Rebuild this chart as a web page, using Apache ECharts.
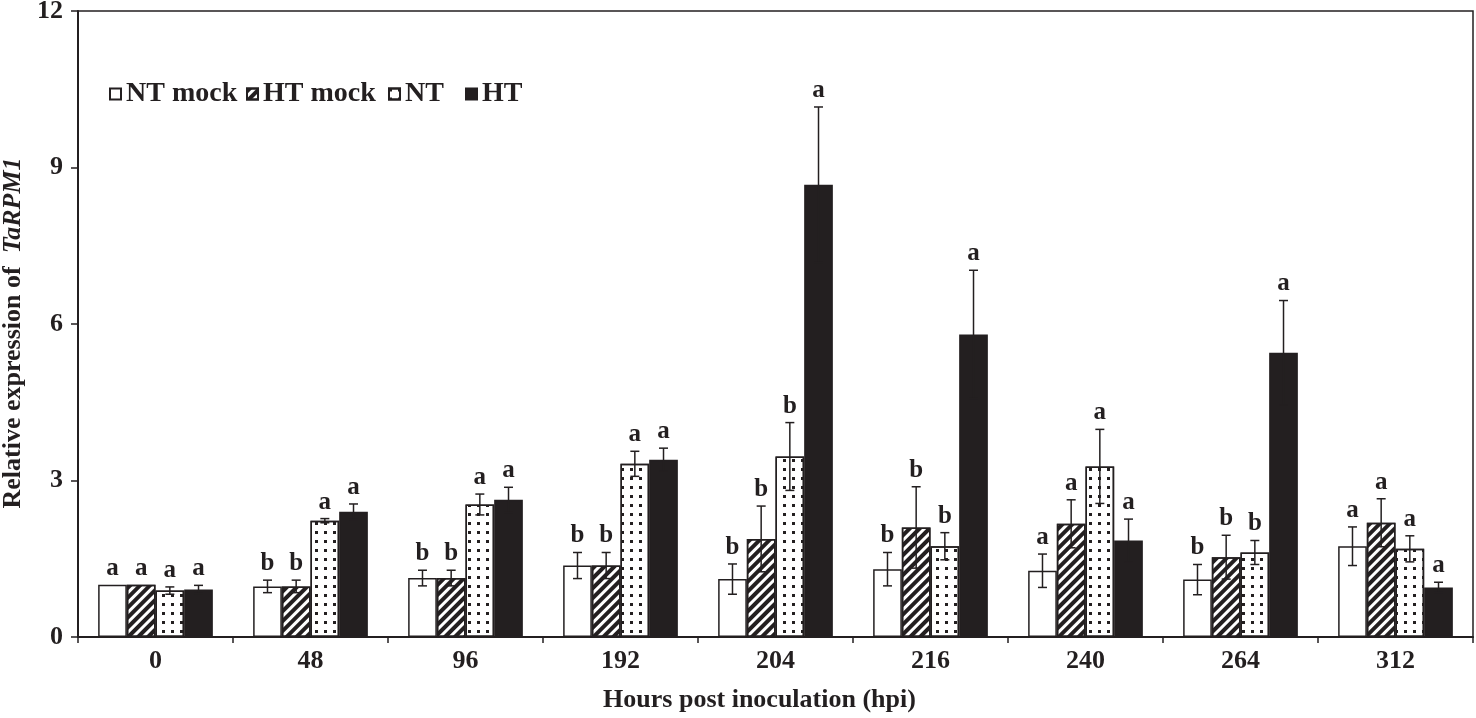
<!DOCTYPE html>
<html>
<head>
<meta charset="utf-8">
<script src="https://cdn.jsdelivr.net/npm/echarts@6/dist/echarts.min.js"></script>
<style>
html,body{margin:0;padding:0;background:#fff;}
#chart{width:1476px;height:718px;}
</style>
</head>
<body>
<div id="chart"></div>
<script>
const categories = ['0','48','96','192','204','216','240','264','312'];
const seriesNames = ['NT mock','HT mock','NT','HT'];
const ntMock    = [1.00, 0.97, 1.13, 1.37, 1.11, 1.30, 1.27, 1.10, 1.74];
const ntMockErr = [0.00, 0.12, 0.15, 0.25, 0.29, 0.32, 0.32, 0.29, 0.37];
const htMock    = [1.00, 0.97, 1.13, 1.37, 1.88, 2.10, 2.17, 1.53, 2.19];
const htMockErr = [0.00, 0.12, 0.15, 0.25, 0.63, 0.78, 0.46, 0.42, 0.46];
const nt        = [0.89, 2.23, 2.54, 3.32, 3.46, 1.74, 3.27, 1.62, 1.69];
const ntErr     = [0.07, 0.04, 0.20, 0.24, 0.65, 0.26, 0.71, 0.23, 0.25];
const ht        = [0.91, 2.40, 2.63, 3.40, 8.67, 5.80, 1.85, 5.45, 0.95];
const htErr     = [0.08, 0.15, 0.24, 0.22, 1.49, 1.23, 0.41, 1.00, 0.10];
const ntMockSig = ['a','b','b','b','b','b','a','b','a'];
const htMockSig = ['a','b','b','b','b','b','a','b','a'];
const ntSig     = ['a','a','a','a','b','b','a','b','a'];
const htSig     = ['a','a','a','a','a','a','a','a','a'];
const yTicks = {min:0, max:12, interval:3};

const INK = '#231f20';
const FONT = "'Liberation Serif','Times New Roman',serif";
const GAP = 0.26;

const values = [ntMock, htMock, nt, ht];
const errs = [ntMockErr, htMockErr, ntErr, htErr];
const sigs = [ntMockSig, htMockSig, ntSig, htSig];

const errData = [];
const errLetters = [];
for (let s = 0; s < 4; s++) {
  for (let c = 0; c < categories.length; c++) {
    errData.push([c, values[s][c], errs[s][c], s]);
    errLetters.push(sigs[s][c]);
  }
}

const styles = [
  {color:'#ffffff', borderColor:INK, borderWidth:1.5},
  {color:'#ffffff', borderColor:INK, borderWidth:1.5,
   decal:{symbol:'rect', symbolSize:1, dashArrayX:[1,0], dashArrayY:[4,3], rotation:-Math.PI/4, color:INK}},
  {color:'#ffffff', borderColor:INK, borderWidth:1.5,
   decal:{symbol:'rect', symbolSize:1, dashArrayX:[3,6], dashArrayY:[3,6], rotation:0, color:INK}},
  {color:INK, borderColor:INK, borderWidth:1.5}
];

const barSeries = seriesNames.map((n, i) => ({
  name: n, type: 'bar', data: values[i],
  barGap: '0%', barCategoryGap: (GAP*100)+'%',
  itemStyle: styles[i], emphasis:{disabled:true}, silent:true
}));

const errSeries = {
  type: 'custom', silent: true, z: 5,
  encode: {x:0, y:1},
  data: errData,
  renderItem: function(params, api) {
    const c = api.value(0), v = api.value(1), e = api.value(2), s = api.value(3);
    const band = api.size([1, 0])[0];
    const bw = band * (1 - GAP) / 4;
    const cx = api.coord([c, 0])[0] + (s - 1.5) * bw;
    const yt = api.coord([c, v + e])[1];
    const yb = api.coord([c, v - e])[1];
    const cap = 4.5;
    const ls = {stroke: INK, lineWidth: 1.5};
    const children = [];
    if (e > 0) {
      children.push({type:'line', shape:{x1:cx, y1:yt, x2:cx, y2:yb}, style:ls});
      children.push({type:'line', shape:{x1:cx-cap, y1:yt, x2:cx+cap, y2:yt}, style:ls});
      children.push({type:'line', shape:{x1:cx-cap, y1:yb, x2:cx+cap, y2:yb}, style:ls});
    }
    children.push({type:'text', x: cx, y: yt - 4, style:{
      text: errLetters[params.dataIndex], fill: INK, font: 'bold 25px ' + FONT,
      textAlign:'center', textVerticalAlign:'bottom'}});
    return {type:'group', children};
  }
};

const legendLefts = [109, 246, 388, 465];
const legends = seriesNames.map((n, i) => ({
  data:[n], left: legendLefts[i], top: 80, padding: 0,
  itemWidth: 11, itemHeight: 11, icon: 'rect', selectedMode: false,
  textStyle:{fontFamily:FONT, fontWeight:'bold', fontSize:28, color:INK}
}));

const chart = echarts.init(document.getElementById('chart'));
chart.setOption({
  animation: false,
  backgroundColor: '#ffffff',
  legend: legends,
  grid: {left:78, right:3, top:11, bottom:81, outerBoundsMode:'none', containLabel:false,
         show:true, borderColor:INK, borderWidth:1.5, backgroundColor:'transparent'},
  xAxis: {
    type:'category', data: categories,
    axisLine:{lineStyle:{color:INK, width:2}},
    axisTick:{show:true, length:6, lineStyle:{color:INK, width:1.5}},
    axisLabel:{fontFamily:FONT, fontWeight:'bold', fontSize:26, color:INK, margin:11},
    name:'Hours post inoculation (hpi)', nameLocation:'middle', nameGap:50,
    nameTextStyle:{fontFamily:FONT, fontWeight:'bold', fontSize:26, color:INK, padding:[0,32,0,0]}
  },
  yAxis: {
    type:'value', min:yTicks.min, max:yTicks.max, interval:yTicks.interval,
    axisLine:{show:true, lineStyle:{color:INK, width:2}},
    axisTick:{show:true, length:7, lineStyle:{color:INK, width:1.5}},
    splitLine:{show:false},
    axisLabel:{fontFamily:FONT, fontWeight:'bold', fontSize:26, color:INK, margin:15},
    name:'{n|Relative expression of  }{i|TaRPM1}', nameLocation:'middle', nameGap:47,
    nameTextStyle:{padding:[0,18,0,0], rich:{
      n:{fontFamily:FONT, fontWeight:'bold', fontSize:26, color:INK},
      i:{fontFamily:FONT, fontWeight:'bold', fontStyle:'italic', fontSize:26, color:INK}
    }}
  },
  series: barSeries.concat([errSeries])
});
</script>
</body>
</html>
